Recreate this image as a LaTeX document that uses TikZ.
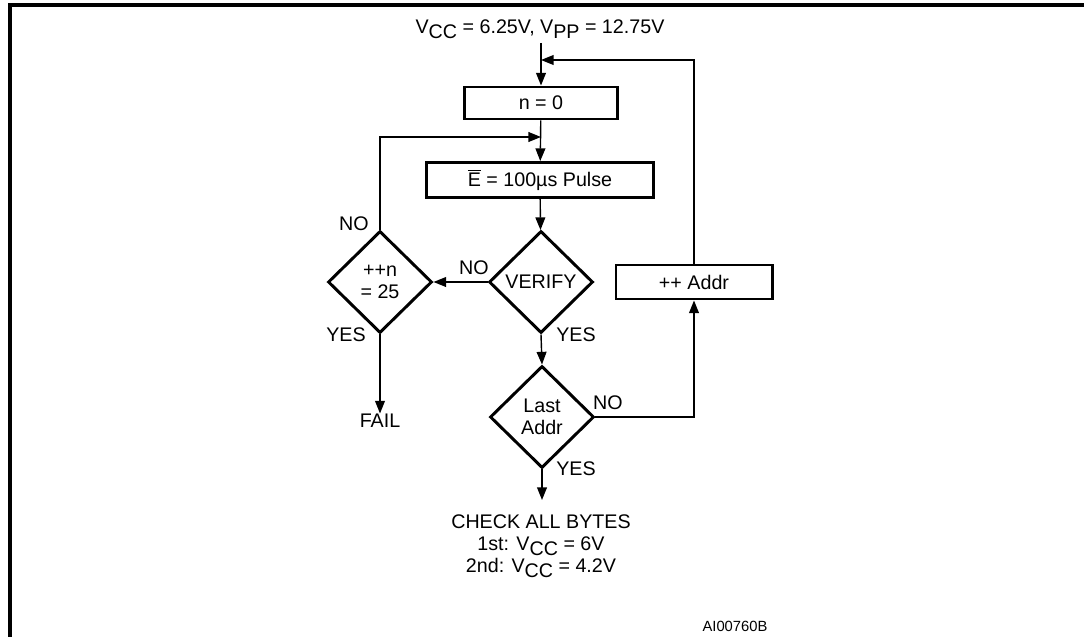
\documentclass[tikz,border=0pt]{standalone}
\usepackage{fontspec}
\setmainfont{Liberation Sans}
\usetikzlibrary{shapes.geometric,arrows.meta}
\newcommand{\lowsub}[1]{\raisebox{-0.45ex}{#1}}
\begin{document}
\begin{tikzpicture}[x=0.025cm,y=-0.025cm,
  every node/.style={font=\fontsize{14}{15.6}\selectfont},
  stepbox/.style={draw,line width=2.1pt,inner sep=0pt},
  decision/.style={draw,diamond,line width=2.1pt,minimum width=2.6cm,minimum height=2.55cm,inner sep=0pt,align=center},
  flow/.style={line width=1pt,-{Triangle[length=9pt,width=7pt]}}]
\useasboundingbox (0,0) rectangle (1084,637);
\draw[line width=2.2pt] (10,637) -- (10,5) -- (1084,5);
% boxes and decisions
\node (supply) at (540,29) {V\lowsub{CC} = 6.25V, V\lowsub{PP} = 12.75V};
\node[stepbox,minimum width=3.825cm,minimum height=0.8cm] (init) at (541,103) {n = 0};
\node[stepbox,minimum width=5.675cm,minimum height=0.875cm] (pulse) at (540,180) {$\overline{\mbox{E}}$ = 100µs Pulse};
\node[decision] (verify) at (541,282) {VERIFY};
\node[decision] (count) at (380,282) {++n\\= 25};
\node[decision] (last) at (542,417) {Last\\Addr};
\node[stepbox,minimum width=3.9cm,minimum height=0.85cm] (incr) at (694,282) {++ Addr};
\node (fail) at (380,421) {FAIL};
\node[align=center] (check) at (541,546) {CHECK ALL BYTES\\1st: V\lowsub{CC} = 6V\\2nd: V\lowsub{CC} = 4.2V};
\node[font=\fontsize{10.5}{12}\selectfont] (figid) at (735,626) {AI00760B};
% labels
\node (noverify) at (474,268) {NO};
\node (yesverify) at (576,335) {YES};
\node (nocount) at (354,224) {NO};
\node (yescount) at (346,335) {YES};
\node (nolast) at (608,403) {NO};
\node (yeslast) at (576,469) {YES};
% connectors
\coordinate (start) at (541,43);
\coordinate (joinup) at (541,60);
\coordinate (joinlow) at (541,137);
\coordinate (done) at (542,500);
\draw[flow] (start) -- (init.north);
\draw[flow] (init) -- (pulse);
\draw[flow] (pulse) -- (verify);
\draw[flow] (verify.west) -- (count.east);
\draw[flow] (verify.south) -- (last.north);
\draw[flow] (count.south) -- ([yshift=-3pt]fail.north);
\draw[flow] (last.south) -- (done);
\draw[flow] (last.east) -| (incr.south);
\draw[flow] (incr.north) |- (joinup);
\draw[flow] (count.north) |- (joinlow);
\end{tikzpicture}
\end{document}
